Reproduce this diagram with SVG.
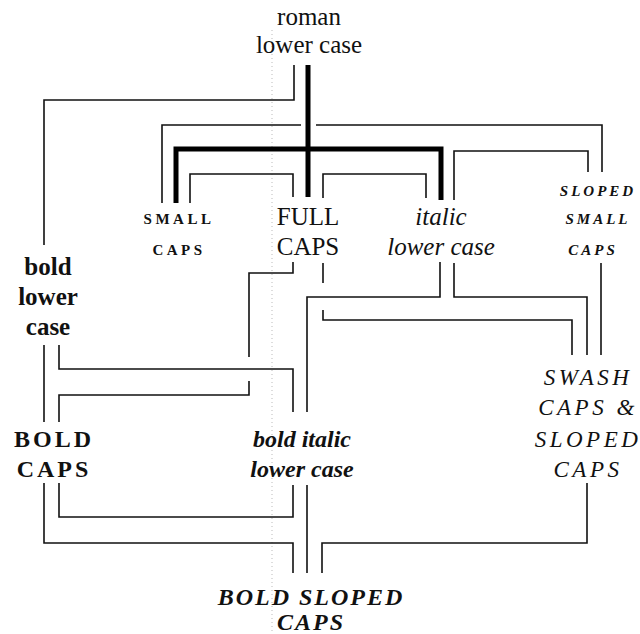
<svg xmlns="http://www.w3.org/2000/svg" width="640" height="634" viewBox="0 0 640 634">
<style>
text{font-family:'Liberation Serif','DejaVu Serif',serif;fill:#111;text-anchor:middle}
.r{font-size:25px}
.i{font-size:25px;font-style:italic}
.b{font-size:25px;font-weight:bold}
.bi{font-size:24px;font-weight:bold;font-style:italic}
.sc{font-size:15px;letter-spacing:3.5px;font-weight:bold}
.sci{font-size:15px;letter-spacing:3px;font-weight:bold;font-style:italic}
.bc{font-size:24px;font-weight:bold;letter-spacing:3px}
.sw{font-size:23px;font-style:italic;letter-spacing:3.5px}
.bsc{font-size:24px;font-weight:bold;font-style:italic;letter-spacing:2px}
.c{fill:none;stroke:#111;stroke-width:1.6}
.t{fill:none;stroke:#000;stroke-width:5}
.g{fill:none;stroke:#bbb;stroke-width:1;stroke-dasharray:1 3}
</style>
<line class="g" x1="272" y1="30" x2="272" y2="634"/>
<g id="connectors">
<path class="c" d="M294,65 V100 H44 V245"/>
<path class="t" d="M308,65 V197"/>
<path class="t" d="M176,203 V149 H441 V200"/>
<path class="c" d="M162,203 V125 H301 M316,125 H602 V172"/>
<path class="c" d="M190,203 V174 H293 V197"/>
<path class="c" d="M323,198 V174 H426 V198"/>
<path class="c" d="M454,200 V151 H588 V172"/>
<path class="c" d="M293,262 V273 H249 V357 M249,381 V395 H59 V422"/>
<path class="c" d="M323,263 V283 M323,310 V320 H572 V355"/>
<path class="c" d="M440,262 V297 H307 V412"/>
<path class="c" d="M454,263 V297 H587 V355"/>
<path class="c" d="M601,263 V355"/>
<path class="c" d="M44,345 V422"/>
<path class="c" d="M59,345 V369 H293 V412"/>
<path class="c" d="M44,483 V543 H293 V573"/>
<path class="c" d="M59,483 V517 H293 V485"/>
<path class="c" d="M307,485 V573"/>
<path class="c" d="M587,483 V543 H322 V573"/>
</g>
<g id="roman"><text class="r" x="309" y="25">roman</text><text class="r" x="309" y="53">lower case</text></g>
<g id="smallcaps"><text class="sc" x="179" y="224">SMALL</text><text class="sc" x="179" y="255">CAPS</text></g>
<g id="fullcaps"><text class="r" x="308" y="225">FULL</text><text class="r" x="308" y="255">CAPS</text></g>
<g id="italic"><text class="i" x="441" y="225">italic</text><text class="i" x="441" y="255">lower case</text></g>
<g id="slopedsmallcaps"><text class="sci" x="598" y="196">SLOPED</text><text class="sci" x="598" y="224">SMALL</text><text class="sci" x="593" y="255">CAPS</text></g>
<g id="boldlc"><text class="b" x="48" y="275">bold</text><text class="b" x="48" y="305">lower</text><text class="b" x="48" y="335">case</text></g>
<g id="boldcaps"><text class="bc" x="54" y="447">BOLD</text><text class="bc" x="54" y="477">CAPS</text></g>
<g id="bolditalic"><text class="bi" x="302" y="447">bold italic</text><text class="bi" x="302" y="477">lower case</text></g>
<g id="swash"><text class="sw" x="588" y="385">SWASH</text><text class="sw" x="588" y="415">CAPS &amp;</text><text class="sw" x="588" y="447">SLOPED</text><text class="sw" x="588" y="477">CAPS</text></g>
<g id="boldsloped"><text class="bsc" x="311" y="605">BOLD SLOPED</text><text class="bsc" x="311" y="630">CAPS</text></g>
</svg>
